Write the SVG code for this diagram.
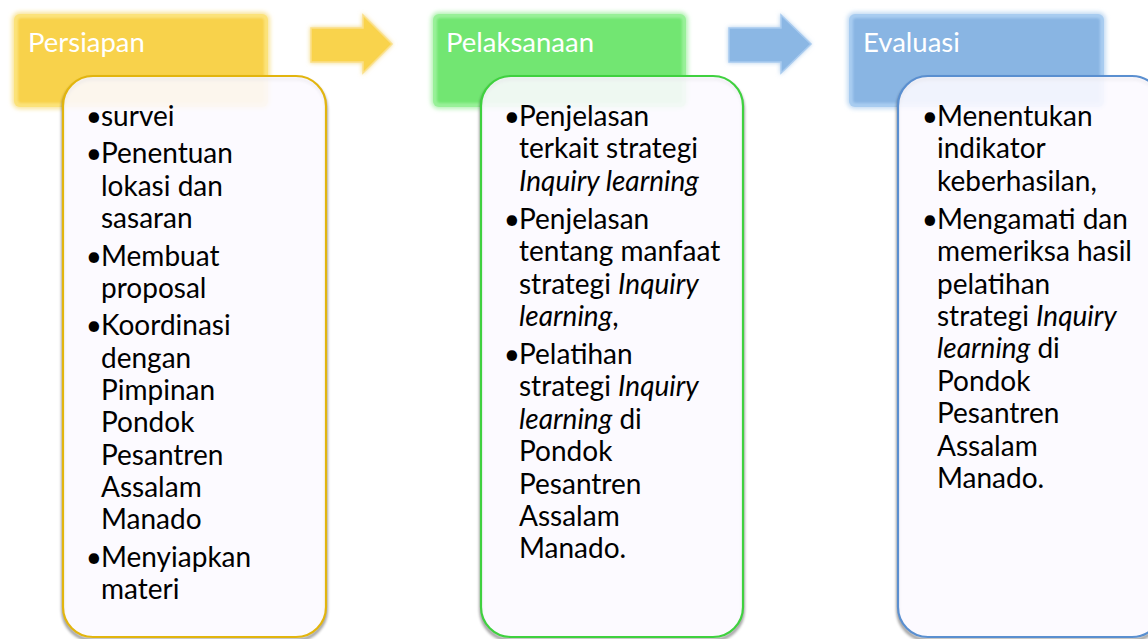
<svg xmlns="http://www.w3.org/2000/svg" width="1148" height="639" viewBox="0 0 1148 639">
  <defs>
    <filter id="halo" x="-10%" y="-20%" width="120%" height="140%">
      <feGaussianBlur stdDeviation="2"/>
    </filter>
    <filter id="soft" x="-5%" y="-5%" width="110%" height="110%">
      <feGaussianBlur stdDeviation="1.2"/>
    </filter>
    <filter id="shade" x="-10%" y="-5%" width="120%" height="110%">
      <feGaussianBlur stdDeviation="1.6"/>
    </filter>
  </defs>
  <style>
    .hdr-text { font-family: Lato, "Liberation Sans", sans-serif; font-size: 27.5px; fill: #ffffff; }
    .body { font-family: Lato, "Liberation Sans", sans-serif; font-size: 28px; fill: #000000; }
    .bullet { text-anchor: end; }
    .it { font-style: italic; }
    .card { fill: #fcfaff; fill-opacity: 0.9; stroke-width: 2.2; }
    .card-shadow { fill: none; stroke: #000000; stroke-width: 3; opacity: 0.45; }
    .y-card { stroke: #e2b50e; }
    .g-card { stroke: #3fd13f; }
    .b-card { stroke: #5a8fd0; }
  </style>

  <rect width="1148" height="639" fill="#ffffff"/>

  <!-- connectors: block arrows between the stages -->
  <g id="connectors">
    <g id="arrow-1">
      <path d="M310,27 H362 V13 L393,44 L362,75 V63 H310 Z" fill="#f3dc8a" filter="url(#halo)"/>
      <path d="M311,28 H363 V15 L392,44 L363,73 V62 H311 Z" fill="#f9d34c" stroke="#fbe089" stroke-width="1.5"/>
    </g>
    <g id="arrow-2">
      <path d="M728,27 H780 V13 L812,44 L780,75 V63 H728 Z" fill="#b9d3ee" filter="url(#halo)"/>
      <path d="M729,28 H781 V15 L811,44 L781,73 V62 H729 Z" fill="#8bb7e4" stroke="#a9cbef" stroke-width="1.5"/>
    </g>
  </g>

  <!-- stage 1: Persiapan -->
  <g id="persiapan-header">
    <rect x="12" y="12" width="258" height="97" rx="8" fill="#f8e49a" filter="url(#halo)"/>
    <rect x="14" y="14" width="254" height="93" rx="6" fill="#fbe27a"/>
    <rect x="18" y="18" width="246" height="85" rx="3" fill="#f8d24c" filter="url(#soft)"/>
    <text class="hdr-text" x="28" y="52">Persiapan</text>
  </g>
  <g id="persiapan-card">
    <rect class="card-shadow" x="63" y="79" width="263" height="561" rx="30" filter="url(#shade)"/>
    <rect class="card y-card" x="63" y="76" width="263" height="561" rx="30"/>
    <g class="body">
      <text class="bullet" x="102" y="126">•</text><text x="101" y="126">survei</text>
      <text class="bullet" x="102" y="163">•</text><text x="101" y="163">Penentuan</text>
      <text x="101" y="195.5">lokasi dan</text>
      <text x="101" y="228">sasaran</text>
      <text class="bullet" x="102" y="266">•</text><text x="101" y="266">Membuat</text>
      <text x="101" y="298">proposal</text>
      <text class="bullet" x="102" y="335">•</text><text x="101" y="335">Koordinasi</text>
      <text x="101" y="367.5">dengan</text>
      <text x="101" y="400">Pimpinan</text>
      <text x="101" y="432">Pondok</text>
      <text x="101" y="465">Pesantren</text>
      <text x="101" y="497">Assalam</text>
      <text x="101" y="529">Manado</text>
      <text class="bullet" x="102" y="567">•</text><text x="101" y="567">Menyiapkan</text>
      <text x="101" y="599">materi</text>
    </g>
  </g>

  <!-- stage 2: Pelaksanaan -->
  <g id="pelaksanaan-header">
    <rect x="431" y="12" width="257" height="97" rx="8" fill="#b4f2b4" filter="url(#halo)"/>
    <rect x="433" y="14" width="253" height="93" rx="6" fill="#98f098"/>
    <rect x="437" y="18" width="245" height="85" rx="3" fill="#72e672" filter="url(#soft)"/>
    <text class="hdr-text" x="446" y="52">Pelaksanaan</text>
  </g>
  <g id="pelaksanaan-card">
    <rect class="card-shadow" x="481" y="79" width="262" height="561" rx="30" filter="url(#shade)"/>
    <rect class="card g-card" x="481" y="76" width="262" height="561" rx="30"/>
    <g class="body">
      <text class="bullet" x="520" y="126">•</text><text x="519" y="126">Penjelasan</text>
      <text x="519" y="158.4">terkait strategi</text>
      <text x="519" y="190.8" class="it">Inquiry learning</text>
      <text class="bullet" x="520" y="228.8">•</text><text x="519" y="228.8">Penjelasan</text>
      <text x="519" y="261.2">tentang manfaat</text>
      <text x="519" y="293.6">strategi <tspan class="it">Inquiry</tspan></text>
      <text x="519" y="326"><tspan class="it">learning</tspan>,</text>
      <text class="bullet" x="520" y="364">•</text><text x="519" y="364">Pelatihan</text>
      <text x="519" y="396.4">strategi <tspan class="it">Inquiry</tspan></text>
      <text x="519" y="428.8"><tspan class="it">learning</tspan> di</text>
      <text x="519" y="461.2">Pondok</text>
      <text x="519" y="493.6">Pesantren</text>
      <text x="519" y="526">Assalam</text>
      <text x="519" y="558.4">Manado.</text>
    </g>
  </g>

  <!-- stage 3: Evaluasi -->
  <g id="evaluasi-header">
    <rect x="847" y="12" width="259" height="97" rx="8" fill="#c3dbf3" filter="url(#halo)"/>
    <rect x="849" y="14" width="255" height="93" rx="6" fill="#a8ccf0"/>
    <rect x="853" y="18" width="247" height="85" rx="3" fill="#89b5e3" filter="url(#soft)"/>
    <text class="hdr-text" x="863" y="52">Evaluasi</text>
  </g>
  <g id="evaluasi-card">
    <rect class="card-shadow" x="898" y="79" width="264" height="561" rx="30" filter="url(#shade)"/>
    <rect class="card b-card" x="898" y="76" width="264" height="561" rx="30"/>
    <g class="body">
      <text class="bullet" x="938" y="126">•</text><text x="937" y="126">Menentukan</text>
      <text x="937" y="158.4">indikator</text>
      <text x="937" y="190.8">keberhasilan,</text>
      <text class="bullet" x="938" y="228.8">•</text><text x="937" y="228.8">Mengamati dan</text>
      <text x="937" y="261.2">memeriksa hasil</text>
      <text x="937" y="293.6">pelatihan</text>
      <text x="937" y="326">strategi <tspan class="it">Inquiry</tspan></text>
      <text x="937" y="358.4"><tspan class="it">learning</tspan> di</text>
      <text x="937" y="390.8">Pondok</text>
      <text x="937" y="423.2">Pesantren</text>
      <text x="937" y="455.6">Assalam</text>
      <text x="937" y="488">Manado.</text>
    </g>
  </g>
</svg>
